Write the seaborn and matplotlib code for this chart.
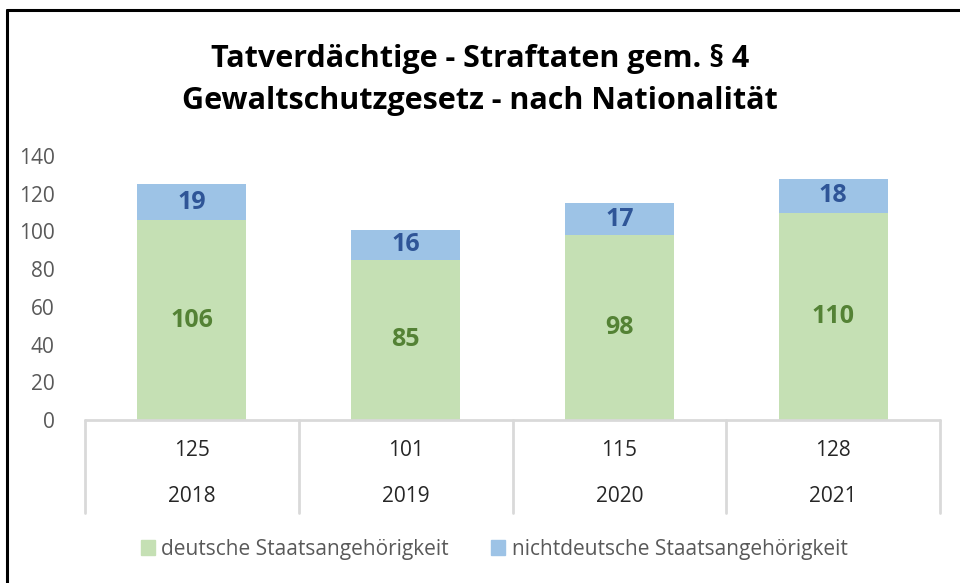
import matplotlib
matplotlib.use("Agg")
import matplotlib.pyplot as plt
import seaborn as sns
import pandas as pd
from matplotlib.lines import Line2D
from matplotlib.patches import Patch

# data
years = ["2018", "2019", "2020", "2021"]
deutsch = [106, 85, 98, 110]
nichtdeutsch = [19, 16, 17, 18]
totals = [125, 101, 115, 128]
yticks = [0, 20, 40, 60, 80, 100, 120, 140]

green = "#C5E0B4"
blue = "#9DC3E6"
green_txt = "#548235"
blue_txt = "#2F5597"
grey_txt = "#595959"
line_col = "#D9D9D9"

sns.set_theme(style="white")
plt.rcParams["font.family"] = ["Open Sans", "DejaVu Sans"]

df = pd.DataFrame({
    "Jahr": years,
    "deutsch": deutsch,
    "gesamt": [d + n for d, n in zip(deutsch, nichtdeutsch)],
})

W, H = 960, 583
fig = plt.figure(figsize=(9.6, 5.83), dpi=100)

def fx(px):
    return px / W

def fy(py):
    return 1 - py / H

ax = fig.add_axes([fx(85), fy(420), fx(940) - fx(85), fy(156) - fy(420)])

# stacked bars: total in blue behind, german part in green on top
sns.barplot(data=df, x="Jahr", y="gesamt", color=blue, width=0.51,
            saturation=1, linewidth=0, ax=ax)
sns.barplot(data=df, x="Jahr", y="deutsch", color=green, width=0.51,
            saturation=1, linewidth=0, ax=ax)

for i in range(len(years)):
    ax.text(i, deutsch[i] / 2, str(deutsch[i]), ha="center", va="center",
            fontsize=18, fontweight="bold", color=green_txt)
    ax.text(i, deutsch[i] + nichtdeutsch[i] / 2, str(nichtdeutsch[i]),
            ha="center", va="center", fontsize=18, fontweight="bold",
            color=blue_txt)

ax.set_xlim(-0.5, len(years) - 0.5)
ax.set_ylim(0, 140)
ax.set_yticks(yticks)
ax.tick_params(axis="y", length=0, pad=22, labelsize=15, labelcolor=grey_txt)
ax.set_xticks([])
ax.set_xlabel("")
ax.set_ylabel("")
for s in ax.spines.values():
    s.set_visible(False)

# category table below the axis
tab = fig.add_axes([fx(85), fy(513), fx(940) - fx(85), fy(420) - fy(513)])
tab.set_xlim(-0.5, len(years) - 0.5)
tab.set_ylim(0, 1)
tab.axis("off")
tab.plot([-0.5, len(years) - 0.5], [1, 1], color=line_col, lw=2,
         clip_on=False)
for b in range(len(years) + 1):
    tab.plot([b - 0.5, b - 0.5], [0, 1], color=line_col, lw=2, clip_on=False)
for i in range(len(years)):
    tab.text(i, 1 - 30 / 93, str(totals[i]), ha="center", va="center",
             fontsize=15, color="#262626")
    tab.text(i, 1 - 77 / 93, years[i], ha="center", va="center",
             fontsize=15, color="#262626")

fig.text(0.5, fy(80), "Tatverdächtige - Straftaten gem. § 4\n"
         "Gewaltschutzgesetz - nach Nationalität",
         ha="center", va="center", fontsize=22, fontweight="bold",
         color="black", linespacing=1.5)

handles = [Patch(facecolor=green, edgecolor=green),
           Patch(facecolor=blue, edgecolor=blue)]
fig.legend(handles, ["deutsche Staatsangehörigkeit",
                     "nichtdeutsche Staatsangehörigkeit"],
           loc="center", bbox_to_anchor=(fx(494), fy(549)), ncol=2,
           frameon=False, fontsize=15, labelcolor=grey_txt,
           handlelength=0.7, handleheight=0.7, handletextpad=0.3,
           columnspacing=2.0)

# frame edges of the original screenshot (top and left)
fig.add_artist(Line2D([fx(7), 1], [fy(10), fy(10)], color="black", lw=2.2))
fig.add_artist(Line2D([fx(7), fx(7)], [0, fy(10)], color="black", lw=2.2))

fig.savefig("out.png", dpi=100)
